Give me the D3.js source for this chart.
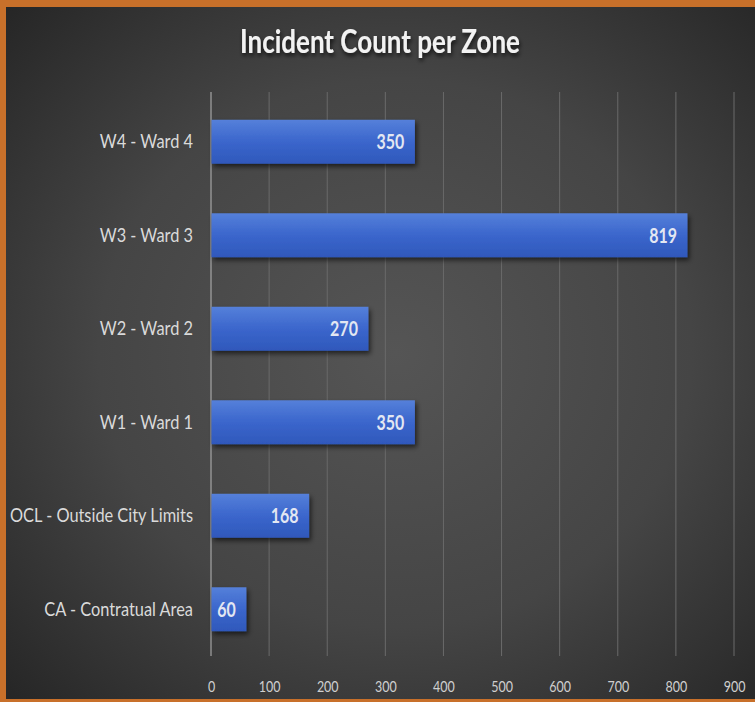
<!DOCTYPE html>
<html><head><meta charset="utf-8">
<script src="https://cdn.jsdelivr.net/npm/d3@7"></script>
<style>
html,body{margin:0;padding:0;background:#fff;}
svg{display:block;}
</style></head>
<body>
<script>
const categories = ["W4 - Ward 4","W3 - Ward 3","W2 - Ward 2","W1 - Ward 1","OCL - Outside City Limits","CA - Contratual Area"];
const values = [350, 819, 270, 350, 168, 60];
const xTicks = [0,100,200,300,400,500,600,700,800,900];
const title = "Incident Count per Zone";

(function(){
const W = 755, H = 702;
const font = "Lato,'Open Sans',sans-serif";
const svg = d3.select("body").append("svg").attr("width", W).attr("height", H);
const defs = svg.append("defs");

function squeeze(sel, k){
  sel.each(function(){
    const len = this.getComputedTextLength();
    d3.select(this).attr("textLength", len*k).attr("lengthAdjust","spacingAndGlyphs");
  });
}

const bg = defs.append("radialGradient").attr("id","bg").attr("cx","52%").attr("cy","50%").attr("r","72%");
bg.append("stop").attr("offset","0%").attr("stop-color","#555555");
bg.append("stop").attr("offset","55%").attr("stop-color","#454545");
bg.append("stop").attr("offset","100%").attr("stop-color","#262626");

const bar = defs.append("linearGradient").attr("id","bar").attr("x1",0).attr("y1",0).attr("x2",0).attr("y2",1);
bar.append("stop").attr("offset","0%").attr("stop-color","#5580da");
bar.append("stop").attr("offset","50%").attr("stop-color","#3b66cc");
bar.append("stop").attr("offset","100%").attr("stop-color","#2f58bb");

const sh = defs.append("filter").attr("id","sh").attr("x","-10%").attr("y","-30%").attr("width","130%").attr("height","180%");
sh.append("feDropShadow").attr("dx",2).attr("dy",3).attr("stdDeviation",2.5).attr("flood-color","#000").attr("flood-opacity",0.6);
const tsh = defs.append("filter").attr("id","tsh").attr("x","-10%").attr("y","-30%").attr("width","130%").attr("height","180%");
tsh.append("feDropShadow").attr("dx",1).attr("dy",3).attr("stdDeviation",2).attr("flood-color","#000").attr("flood-opacity",0.7);

svg.append("rect").attr("x",0).attr("y",0).attr("width",W).attr("height",H).attr("fill","#c8702a");
svg.append("rect").attr("x",6).attr("y",7).attr("width",W-6).attr("height",H-10).attr("fill","url(#bg)");

const pLeft = 211, pRight = 734, pTop = 95, pBottom = 656;
const x = d3.scaleLinear().domain([0, 900]).range([pLeft, pRight]);
const y = d3.scaleBand().domain(categories).range([pTop, pBottom]).paddingInner(0.53).paddingOuter(0.265);

svg.append("g").selectAll("line").data(xTicks.slice(1)).join("line")
  .attr("x1", d => x(d)).attr("x2", d => x(d))
  .attr("y1", 92).attr("y2", 656)
  .attr("stroke", "#6a6a6a").attr("stroke-width", 1);
svg.append("line").attr("x1", x(0)).attr("x2", x(0)).attr("y1", 92).attr("y2", 656)
  .attr("stroke", "#b8b8b8").attr("stroke-width", 1);

svg.append("g").selectAll("rect").data(values).join("rect")
  .attr("x", x(0)+0.5)
  .attr("y", (d,i) => y(categories[i]))
  .attr("width", d => x(d) - x(0))
  .attr("height", y.bandwidth())
  .attr("fill", "url(#bar)")
  .attr("filter", "url(#sh)");

const vl = svg.append("g").selectAll("text").data(values).join("text")
  .attr("x", d => x(d) - 10)
  .attr("y", (d,i) => y(categories[i]) + y.bandwidth()/2)
  .attr("dy", "0.36em")
  .attr("text-anchor", "end")
  .attr("font-family", font).attr("font-size", 21).attr("font-weight", "bold")
  .attr("fill", "#e3e7f2")
  .text(d => d);
squeeze(vl, 0.76);

const yAxis = d3.axisLeft(y).tickSize(0).tickPadding(18);
const gy = svg.append("g").attr("transform", `translate(${pLeft},0)`).call(yAxis);
gy.select(".domain").remove();
const yl = gy.selectAll("text").attr("font-family", font).attr("font-size", 20).attr("fill", "#dadada");
let ocl = 0; yl.each(function(d){ if (d === categories[4]) ocl = this.getComputedTextLength(); });
squeeze(yl, 183/ocl);

const xAxis = d3.axisBottom(x).tickValues(xTicks).tickSize(0).tickPadding(0).tickFormat(d3.format("d"));
const gx = svg.append("g").attr("transform", `translate(0,686)`).call(xAxis);
gx.select(".domain").remove();
const xl = gx.selectAll("text").attr("font-family", font).attr("font-size", 16).attr("fill", "#cfcfcf").attr("dy","0.35em");
squeeze(xl, 0.78);

const t = svg.append("text").attr("x", 380).attr("y", 53).attr("text-anchor","middle")
  .attr("font-family", font).attr("font-size", 32).attr("font-weight","bold")
  .attr("fill", "#f2f2f2").attr("filter","url(#tsh)")
  .text(title);
squeeze(t, 280/t.node().getComputedTextLength());
})();
</script>
</body></html>
